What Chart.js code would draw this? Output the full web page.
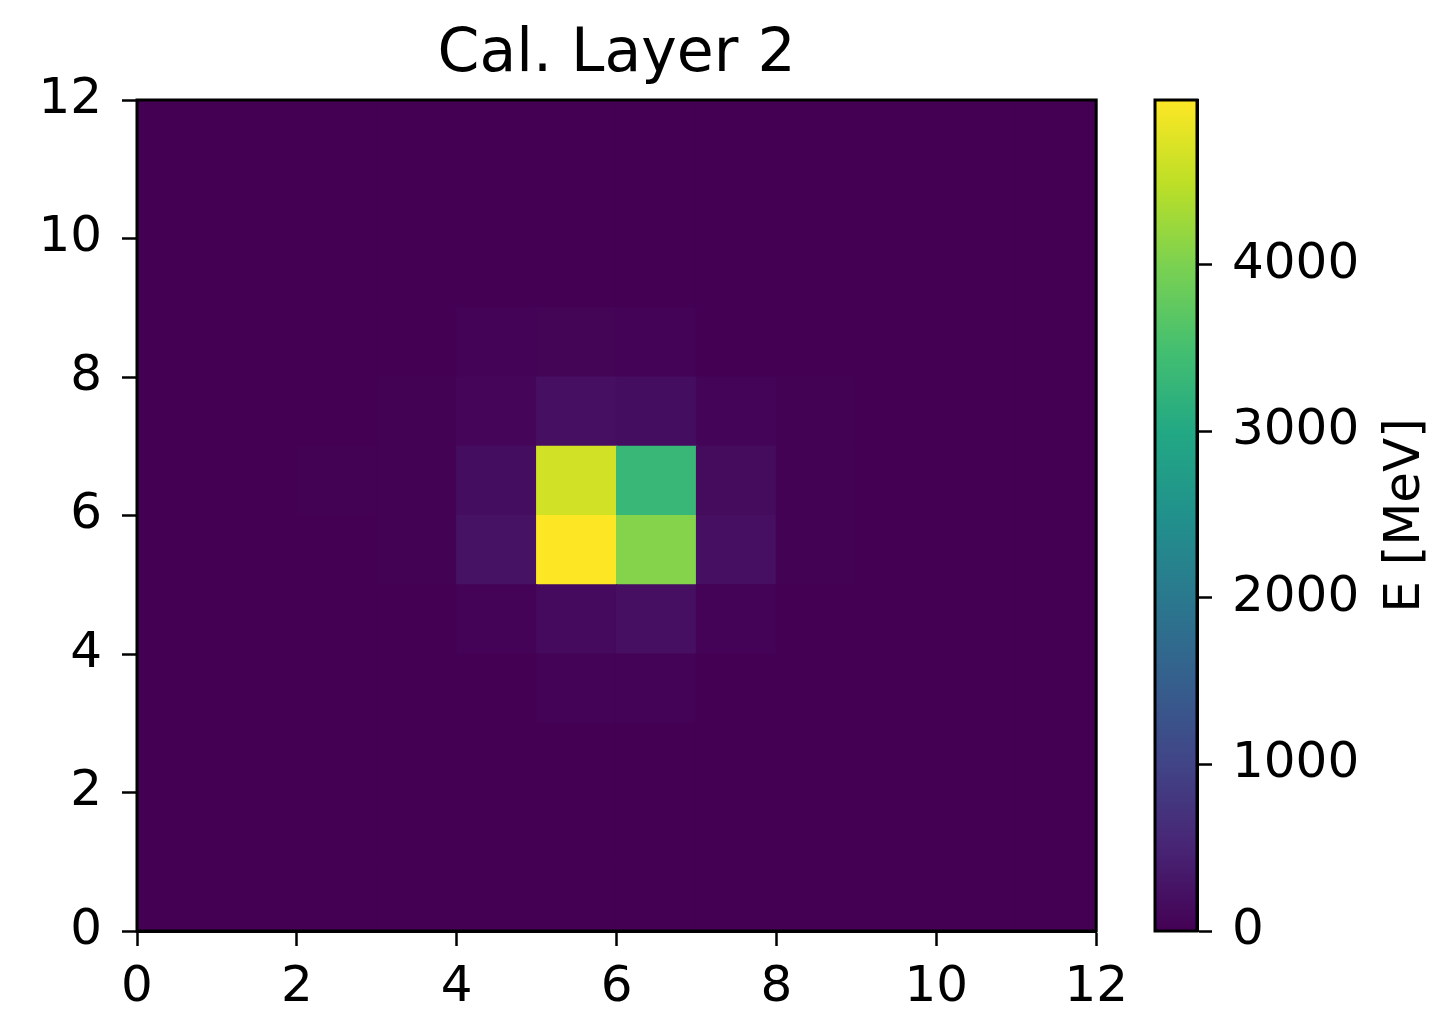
<!DOCTYPE html>
<html lang="en">
<head>
  <meta charset="UTF-8" />
  <title>Cal. Layer 2</title>
  <script src="https://cdn.jsdelivr.net/npm/chart.js"></script>
  <style>
    html, body { margin: 0; padding: 0; background: #fff; }
    #wrap { position: relative; width: 1430px; height: 1010px; }
    #mapBox { position: absolute; left: 0; top: 0; width: 1140px; height: 1010px; }
    #barBox { position: absolute; left: 1100px; top: 0; width: 330px; height: 1010px; }
  </style>
</head>
<body>
  <div id="wrap">
    <div id="mapBox"><canvas id="heatmap"></canvas></div>
    <div id="barBox"><canvas id="colorbar"></canvas></div>
  </div>

  <script>
    // --- data (energy per cell, MeV). rows listed top (y=11) to bottom (y=0) ---
    const energy = [
      [0, 0, 0, 0, 0, 0, 0, 0, 0, 0, 0, 0],
      [0, 0, 0, 0, 0, 0, 0, 0, 0, 0, 0, 0],
      [0, 0, 0, 0, 0, 0, 0, 0, 0, 0, 0, 0],
      [0, 0, 0, 0, 25, 50, 35, 0, 0, 0, 0, 0],
      [0, 0, 0, 20, 70, 200, 175, 60, 15, 0, 0, 0],
      [0, 0, 10, 15, 170, 4650, 3320, 150, 15, 0, 0, 0],
      [0, 0, 0, 15, 245, 4990, 4065, 200, 15, 0, 0, 0],
      [0, 0, 0, 0, 30, 130, 200, 35, 0, 0, 0, 0],
      [0, 0, 0, 0, 0, 30, 30, 0, 0, 0, 0, 0],
      [0, 0, 0, 0, 0, 0, 0, 0, 0, 0, 0, 0],
      [0, 0, 0, 0, 0, 0, 0, 0, 0, 0, 0, 0],
      [0, 0, 0, 0, 0, 0, 0, 0, 0, 0, 0, 0]
    ];
    const xTicks = [0, 2, 4, 6, 8, 10, 12];
    const yTicks = [0, 2, 4, 6, 8, 10, 12];
    const cbarTicks = [0, 1000, 2000, 3000, 4000];
    const titleText = 'Cal. Layer 2';
    const cbarLabel = 'E [MeV]';

    // viridis colormap stops at 0, 0.1, ... 1
    const viridis = ['#440154', '#482475', '#414487', '#355f8d', '#2a788e', '#21918c',
                     '#22a884', '#44bf70', '#7ad151', '#bddf26', '#fde725'];

    function hexRgb(h) {
      return [parseInt(h.slice(1, 3), 16), parseInt(h.slice(3, 5), 16), parseInt(h.slice(5, 7), 16)];
    }
    function cmap(t) {
      t = Math.max(0, Math.min(1, t));
      const p = t * (viridis.length - 1);
      const i = Math.min(Math.floor(p), viridis.length - 2);
      const f = p - i;
      const a = hexRgb(viridis[i]), b = hexRgb(viridis[i + 1]);
      const c = a.map((v, k) => Math.round(v + (b[k] - v) * f));
      return `rgb(${c[0]},${c[1]},${c[2]})`;
    }

    const vmax = Math.max(...energy.flat());
    const nRows = energy.length;

    // one floating bar per cell
    const cells = [];
    const cellColors = [];
    energy.forEach((row, r) => {
      const yIdx = nRows - 1 - r;
      row.forEach((v, xIdx) => {
        cells.push({ x: xIdx + 0.5, y: [yIdx, yIdx + 1] });
        cellColors.push(cmap(v / vmax));
      });
    });

    const FONT = 'DejaVu Sans';
    Chart.defaults.font.family = FONT;
    Chart.defaults.color = '#000';

    // fill plot area with the zero colour so cell seams don't show
    const areaFill = {
      id: 'areaFill',
      beforeDatasetsDraw(chart) {
        const a = chart.chartArea, ctx = chart.ctx;
        ctx.save();
        ctx.fillStyle = viridis[0];
        ctx.fillRect(a.left, a.top, a.right - a.left, a.bottom - a.top);
        ctx.restore();
      }
    };

    // black frame around the plot area
    const frame = {
      id: 'frame',
      afterDraw(chart) {
        const a = chart.chartArea, ctx = chart.ctx;
        ctx.save();
        ctx.strokeStyle = '#000';
        ctx.lineWidth = 3;
        ctx.strokeRect(a.left, a.top, a.right - a.left, a.bottom - a.top);
        ctx.restore();
      }
    };

    // title centred over the plot area
    const plotTitle = {
      id: 'plotTitle',
      afterDraw(chart) {
        const a = chart.chartArea, ctx = chart.ctx;
        ctx.save();
        ctx.font = `60px "${FONT}"`;
        ctx.fillStyle = '#000';
        ctx.textAlign = 'center';
        ctx.textBaseline = 'alphabetic';
        ctx.fillText(titleText, (a.left + a.right) / 2, 71);
        ctx.restore();
      }
    };

    const tickGrid = { drawOnChartArea: false, drawTicks: true, tickLength: 15, tickColor: '#000', tickWidth: 2.5, offset: false };
    const tickBorder = { display: true, color: '#000', width: 3 };

    new Chart(document.getElementById('heatmap'), {
      type: 'bar',
      data: {
        datasets: [{
          data: cells,
          backgroundColor: cellColors,
          borderWidth: 0,
          inflateAmount: 0.6,
          barPercentage: 1,
          categoryPercentage: 1
        }]
      },
      options: {
        responsive: true,
        maintainAspectRatio: false,
        animation: false,
        layout: { padding: { top: 100, right: 43, bottom: 0, left: 0 } },
        plugins: {
          legend: { display: false },
          tooltip: { enabled: false }
        },
        scales: {
          x: {
            type: 'linear',
            position: 'bottom',
            min: 0,
            max: 12,
            offset: false,
            grid: tickGrid,
            border: tickBorder,
            afterBuildTicks: s => { s.ticks = xTicks.map(v => ({ value: v })); },
            ticks: { font: { size: 50 }, color: '#000', padding: 12, maxRotation: 0 },
            afterFit: s => { s.height = 79; }
          },
          y: {
            type: 'linear',
            position: 'left',
            min: 0,
            max: 12,
            grid: tickGrid,
            border: tickBorder,
            afterBuildTicks: s => { s.ticks = yTicks.map(v => ({ value: v })); },
            ticks: { font: { size: 50 }, color: '#000', padding: 20 },
            afterFit: s => { s.width = 137; }
          }
        }
      },
      plugins: [areaFill, frame, plotTitle]
    });

    // colorbar: one floating bar spanning 0..vmax with a viridis gradient
    const cbarTitle = {
      id: 'cbarTitle',
      afterDraw(chart) {
        const a = chart.chartArea, ctx = chart.ctx;
        ctx.save();
        ctx.translate(306, (a.top + a.bottom) / 2);
        ctx.rotate(-Math.PI / 2);
        ctx.font = `50px "${FONT}"`;
        ctx.fillStyle = '#000';
        ctx.textAlign = 'center';
        ctx.textBaseline = 'middle';
        ctx.fillText(cbarLabel, 0, 0);
        ctx.restore();
      }
    };

    new Chart(document.getElementById('colorbar'), {
      type: 'bar',
      data: {
        labels: ['E'],
        datasets: [{
          data: [[0, vmax]],
          backgroundColor: ctx => {
            const a = ctx.chart.chartArea;
            if (!a) return viridis[0];
            const g = ctx.chart.ctx.createLinearGradient(0, a.bottom, 0, a.top);
            viridis.forEach((c, i) => g.addColorStop(i / (viridis.length - 1), c));
            return g;
          },
          borderWidth: 0,
          barPercentage: 1,
          categoryPercentage: 1
        }]
      },
      options: {
        responsive: true,
        maintainAspectRatio: false,
        animation: false,
        layout: { padding: { top: 100, right: 0, bottom: 79, left: 55 } },
        plugins: { legend: { display: false }, tooltip: { enabled: false } },
        scales: {
          x: { display: false },
          y: {
            position: 'right',
            min: 0,
            max: vmax,
            afterBuildTicks: s => { s.ticks = cbarTicks.map(v => ({ value: v })); },
            grid: tickGrid,
            border: tickBorder,
            ticks: { font: { size: 50 }, color: '#000', padding: 20, callback: v => String(v) },
            afterFit: s => { s.width = 233; }
          }
        }
      },
      plugins: [frame, cbarTitle]
    });
  </script>
</body>
</html>
